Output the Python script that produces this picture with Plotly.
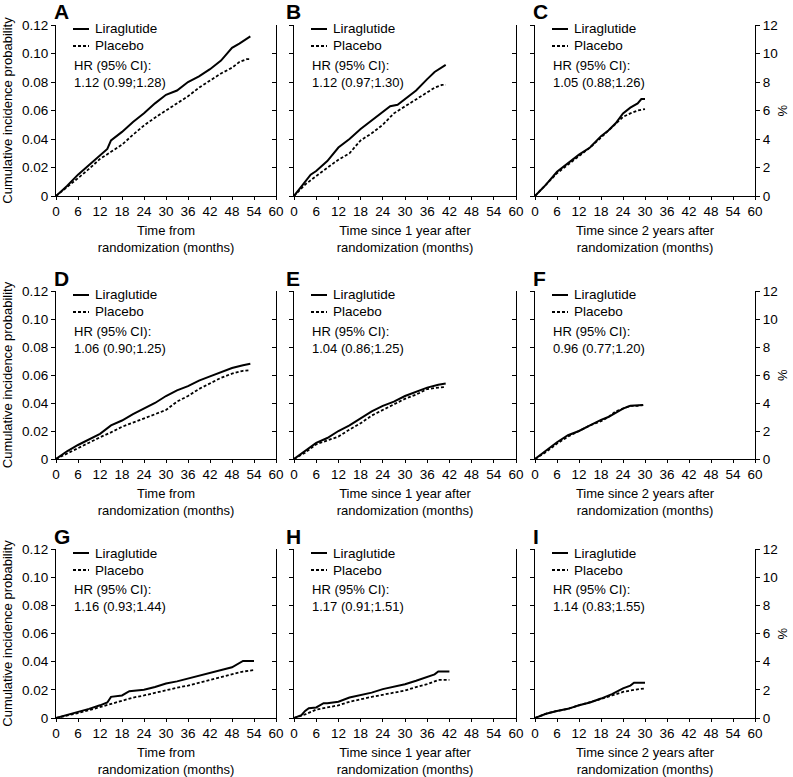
import plotly.graph_objects as go

FONT = "Liberation Sans, Arial, sans-serif"

panel_letters = ["A", "B", "C", "D", "E", "F", "G", "H", "I"]
hr_texts = ["1.12 (0.99;1.28)", "1.12 (0.97;1.30)", "1.05 (0.88;1.26)",
            "1.06 (0.90;1.25)", "1.04 (0.86;1.25)", "0.96 (0.77;1.20)",
            "1.16 (0.93;1.44)", "1.17 (0.91;1.51)", "1.14 (0.83;1.55)"]
x_titles = ["Time from<br>randomization (months)",
            "Time since 1 year after<br>randomization (months)",
            "Time since 2 years after<br>randomization (months)"]
x_ticks = [0, 6, 12, 18, 24, 30, 36, 42, 48, 54, 60]
y_ticks_left = [0, 0.02, 0.04, 0.06, 0.08, 0.10, 0.12]
y_ticklabels_left = ["0", "0.02", "0.04", "0.06", "0.08", "0.10", "0.12"]
y_ticks_right = [0, 2, 4, 6, 8, 10, 12]

# ---- data (months, cumulative incidence) ----
t_A = [0, 3, 6, 9, 12, 14, 15, 16, 18, 21, 24, 27, 30, 33, 36, 39, 42, 45, 48, 50, 53]
lira_A = [0, 0.007, 0.015, 0.022, 0.029, 0.033, 0.039, 0.041, 0.045, 0.052, 0.058, 0.065, 0.071, 0.074, 0.080, 0.084, 0.089, 0.095, 0.104, 0.107, 0.112]
t_Ap = [0, 3, 6, 9, 12, 15, 18, 21, 24, 27, 30, 33, 36, 39, 42, 45, 48, 50, 52, 53]
plac_A = [0, 0.006, 0.0125, 0.019, 0.026, 0.031, 0.036, 0.043, 0.0495, 0.055, 0.060, 0.065, 0.070, 0.076, 0.081, 0.086, 0.090, 0.094, 0.096, 0.096]

t_B = [0, 3, 4.5, 6, 9, 12, 15, 18, 21, 24, 26, 28, 30, 33, 36, 38, 41]
lira_B = [0, 0.010, 0.015, 0.0175, 0.0245, 0.034, 0.040, 0.047, 0.053, 0.059, 0.063, 0.064, 0.068, 0.074, 0.082, 0.087, 0.092]
t_Bp = [0, 3, 6, 9, 12, 15, 18, 21, 24, 27, 30, 33, 36, 38, 40, 41]
plac_B = [0, 0.008, 0.014, 0.020, 0.0255, 0.030, 0.039, 0.044, 0.050, 0.058, 0.063, 0.068, 0.073, 0.076, 0.078, 0.078]

t_C = [0, 3, 6, 9, 12, 15, 18, 20, 22, 24, 26, 28, 29, 30]
lira_C = [0, 0.008, 0.017, 0.023, 0.029, 0.034, 0.042, 0.046, 0.051, 0.058, 0.062, 0.065, 0.068, 0.068]
t_Cp = [0, 3, 6, 9, 12, 15, 18, 20, 22, 24, 26, 28, 30]
plac_C = [0, 0.008, 0.016, 0.022, 0.028, 0.034, 0.041, 0.046, 0.051, 0.0555, 0.058, 0.060, 0.061]

t_D = [0, 3, 6, 9, 12, 15, 18, 21, 24, 27, 30, 33, 36, 39, 42, 45, 48, 51, 53]
lira_D = [0, 0.0055, 0.010, 0.014, 0.018, 0.024, 0.0275, 0.032, 0.036, 0.040, 0.045, 0.049, 0.052, 0.056, 0.059, 0.062, 0.065, 0.067, 0.068]
t_Dp = [0, 3, 6, 9, 12, 15, 18, 21, 24, 27, 30, 33, 36, 39, 42, 45, 48, 51, 53]
plac_D = [0, 0.004, 0.008, 0.012, 0.0155, 0.019, 0.023, 0.026, 0.029, 0.032, 0.035, 0.041, 0.045, 0.050, 0.054, 0.058, 0.061, 0.063, 0.0635]

t_E = [0, 3, 6, 9, 12, 15, 18, 21, 24, 27, 30, 33, 36, 39, 41]
lira_E = [0, 0.0055, 0.0115, 0.015, 0.020, 0.024, 0.029, 0.034, 0.038, 0.041, 0.045, 0.048, 0.051, 0.053, 0.054]
t_Ep = [0, 3, 6, 9, 12, 15, 18, 21, 24, 27, 30, 33, 36, 39, 41]
plac_E = [0, 0.0045, 0.0105, 0.013, 0.016, 0.021, 0.0255, 0.031, 0.035, 0.039, 0.043, 0.046, 0.050, 0.051, 0.0515]

t_F = [0, 3, 6, 9, 12, 15, 18, 20, 22, 24, 26, 28, 29.5]
lira_F = [0, 0.006, 0.012, 0.017, 0.020, 0.024, 0.028, 0.030, 0.033, 0.036, 0.038, 0.038, 0.0385]
t_Fp = [0, 3, 6, 9, 12, 15, 18, 20, 22, 24, 26, 28, 29.5]
plac_F = [0, 0.005, 0.011, 0.016, 0.020, 0.024, 0.027, 0.030, 0.034, 0.036, 0.038, 0.038, 0.0385]

t_G = [0, 3, 6, 9, 12, 14, 15, 18, 20, 24, 27, 30, 33, 36, 39, 42, 45, 48, 51, 54]
lira_G = [0, 0.002, 0.0045, 0.0065, 0.009, 0.011, 0.015, 0.016, 0.019, 0.020, 0.022, 0.0245, 0.026, 0.028, 0.030, 0.0315, 0.034, 0.036, 0.0405, 0.0405]
t_Gp = [0, 3, 6, 9, 12, 15, 18, 21, 24, 27, 30, 33, 36, 39, 42, 45, 48, 51, 54]
plac_G = [0, 0.0015, 0.0035, 0.0055, 0.0078, 0.010, 0.0125, 0.0145, 0.016, 0.018, 0.020, 0.0215, 0.023, 0.025, 0.027, 0.029, 0.0315, 0.033, 0.034]

t_H = [0, 2, 3, 4, 6, 8, 9, 12, 15, 18, 21, 24, 27, 30, 33, 36, 38, 39, 42]
lira_H = [0, 0.002, 0.005, 0.007, 0.0075, 0.0105, 0.0105, 0.0115, 0.0145, 0.016, 0.018, 0.0205, 0.022, 0.024, 0.0265, 0.029, 0.031, 0.033, 0.033]
t_Hp = [0, 3, 6, 9, 12, 15, 18, 21, 24, 27, 30, 33, 36, 39, 42]
plac_H = [0, 0.0025, 0.006, 0.0075, 0.009, 0.0115, 0.0135, 0.015, 0.0165, 0.018, 0.0195, 0.022, 0.024, 0.027, 0.027]

t_I = [0, 3, 6, 9, 12, 15, 18, 21, 24, 26, 27, 30]
lira_I = [0, 0.003, 0.005, 0.0065, 0.009, 0.011, 0.0138, 0.017, 0.021, 0.023, 0.025, 0.025]
t_Ip = [0, 3, 6, 9, 12, 15, 18, 21, 24, 27, 30]
plac_I = [0, 0.003, 0.005, 0.0065, 0.009, 0.011, 0.0135, 0.016, 0.0185, 0.020, 0.021]

lira_t = [t_A, t_B, t_C, t_D, t_E, t_F, t_G, t_H, t_I]
lira_y = [lira_A, lira_B, lira_C, lira_D, lira_E, lira_F, lira_G, lira_H, lira_I]
plac_t = [t_Ap, t_Bp, t_Cp, t_Dp, t_Ep, t_Fp, t_Gp, t_Hp, t_Ip]
plac_y = [plac_A, plac_B, plac_C, plac_D, plac_E, plac_F, plac_G, plac_H, plac_I]

# ---- layout geometry (page pixels) ----
W, H = 793, 777
col_px = [(56, 276), (294, 516), (535, 755)]
row_px = [(25, 196), (291, 459), (549, 718)]
letter_px = [52, 284, 531]
pct_px = 782

fig = go.Figure()
layout = dict(width=W, height=H, margin=dict(l=0, r=0, t=0, b=0, autoexpand=False),
              paper_bgcolor="white", plot_bgcolor="white", showlegend=False,
              font=dict(family=FONT, size=13, color="black"))
annotations = []
shapes = []

for i in range(9):
    r, c = divmod(i, 3)
    n = i + 1
    nr = i + 10
    xs = "" if n == 1 else str(n)
    x0, x1 = col_px[c]
    ytop, ybot = row_px[r]
    pw, ph = x1 - x0, ybot - ytop
    xdom = [x0 / W, x1 / W]
    ydom = [1 - ybot / H, 1 - ytop / H]

    layout[f"xaxis{xs}"] = dict(
        domain=xdom, anchor=f"y{xs}", range=[0, 60], tickvals=x_ticks,
        showline=True, linecolor="black", linewidth=1, ticks="outside",
        ticklen=3, tickcolor="black", showgrid=False, zeroline=False,
        tickfont=dict(size=13.5), title=dict(text=x_titles[c], font=dict(size=13), standoff=7),
        fixedrange=True)
    layout[f"yaxis{xs}"] = dict(
        domain=ydom, anchor=f"x{xs}", range=[0, 0.12], tickvals=y_ticks_left,
        ticktext=y_ticklabels_left, showticklabels=(c == 0),
        showline=True, linecolor="black", linewidth=1, ticks="outside",
        ticklen=4, tickcolor="black", showgrid=False, zeroline=False,
        tickfont=dict(size=13.5), fixedrange=True,
        title=dict(text="Cumulative incidence probability" if c == 0 else "",
                   font=dict(size=13), standoff=12))
    layout[f"yaxis{nr}"] = dict(
        overlaying=f"y{xs}", side="right", anchor=f"x{xs}", range=[0, 12],
        tickvals=y_ticks_right, showticklabels=(c == 2),
        showline=True, linecolor="black", linewidth=1,
        ticks="outside" if c == 2 else "inside", ticklen=4, tickcolor="black",
        showgrid=False, zeroline=False, tickfont=dict(size=13.5), fixedrange=True)

    fig.add_trace(go.Scatter(x=lira_t[i], y=lira_y[i], mode="lines", name="Liraglutide",
                             line=dict(color="black", width=2), xaxis=f"x{xs}", yaxis=f"y{xs}"))
    fig.add_trace(go.Scatter(x=plac_t[i], y=plac_y[i], mode="lines", name="Placebo",
                             line=dict(color="black", width=1.8, dash="3px,2px"),
                             xaxis=f"x{xs}", yaxis=f"y{xs}"))
    # invisible trace so the right axis is rendered
    fig.add_trace(go.Scatter(x=[None], y=[None], mode="lines", showlegend=False,
                             hoverinfo="skip", xaxis=f"x{xs}", yaxis=f"y{nr}"))

    xr, yr = f"x{xs} domain", f"y{xs} domain"
    # legend samples
    for k, (lab, dash, wd) in enumerate([("Liraglutide", "solid", 2), ("Placebo", "3px,2px", 1.8)]):
        yy = 1 - (4 + 17 * k) / ph
        shapes.append(dict(type="line", xref=xr, yref=yr, x0=17 / pw, x1=33 / pw, y0=yy, y1=yy,
                           line=dict(color="black", width=wd, dash=dash)))
        annotations.append(dict(xref=xr, yref=yr, x=37 / pw, y=yy, text=lab, showarrow=False,
                                xanchor="left", yanchor="middle", font=dict(size=13.5)))
    annotations.append(dict(xref=xr, yref=yr, x=16 / pw, y=1 - 31 / ph,
                            text="HR (95% CI):<br>" + hr_texts[i], showarrow=False,
                            xanchor="left", yanchor="top", align="left", font=dict(size=13)))
    # panel letter
    annotations.append(dict(xref="paper", yref="paper", x=letter_px[c] / W,
                            y=1 - (ytop - 13) / H,
                            text="<b>" + panel_letters[i] + "</b>", showarrow=False,
                            xanchor="left", yanchor="middle", font=dict(size=21)))
    # right-axis unit
    if c == 2:
        annotations.append(dict(xref="paper", yref=yr, x=pct_px / W, y=0.5,
                                text="%", showarrow=False, textangle=-90,
                                xanchor="center", yanchor="middle", font=dict(size=13)))

layout["annotations"] = annotations
layout["shapes"] = shapes
fig.update_layout(**layout)
# the page's default 8px body margin would push the 793x777 figure out of the window
fig.write_html("out.html", config={"displayModeBar": False},
               post_script="document.body.style.margin='0px';")
